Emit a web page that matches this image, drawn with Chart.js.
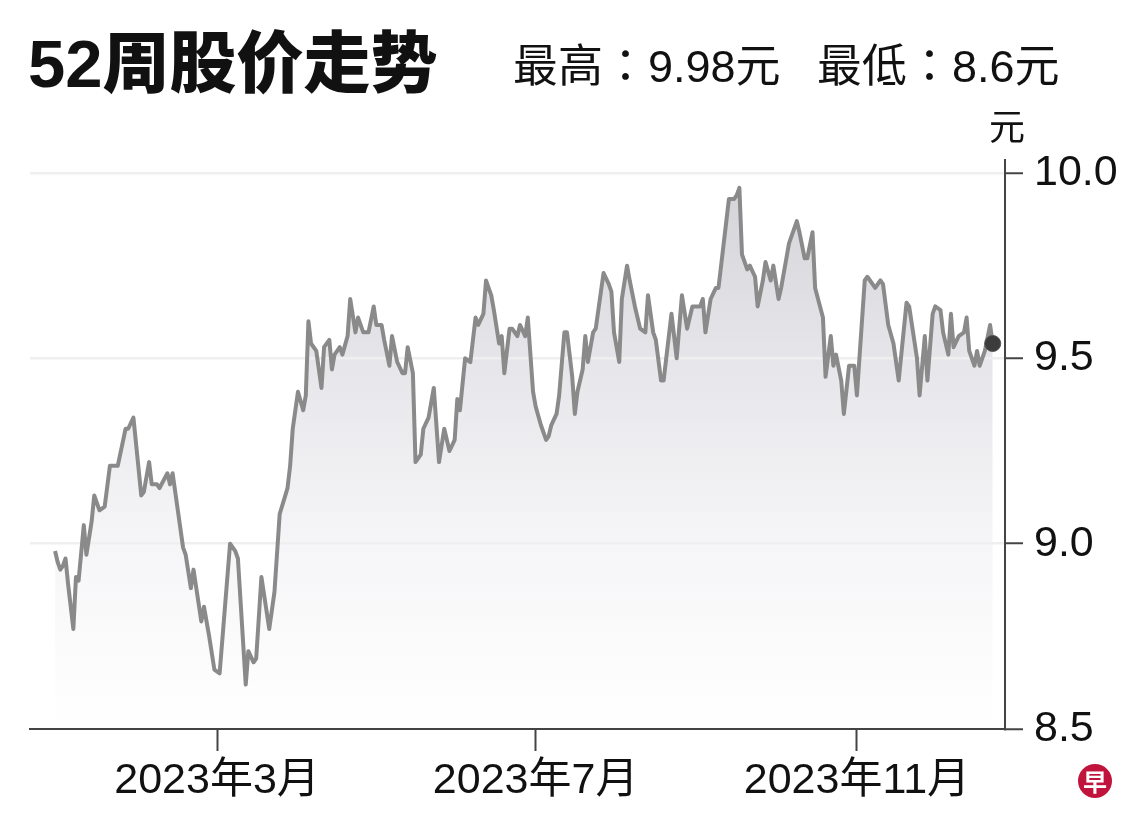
<!DOCTYPE html>
<html>
<head>
<meta charset="utf-8">
<script src="https://cdn.jsdelivr.net/npm/chart.js@4"></script>
<style>
  html, body { margin: 0; padding: 0; background: #fff; }
  #wrap { position: relative; width: 1140px; height: 830px; overflow: hidden; }
  #chart { position: absolute; left: 0; top: 0; }
  .txt { position: absolute; white-space: nowrap; color: #111; line-height: 1; }
  #title { left: 28px; top: 9px; font: 900 67px "Liberation Sans", "Noto Sans CJK SC", sans-serif; }
  #hi, #lo { top: 30px; font: 45px "Liberation Sans", "Noto Sans CJK TC", sans-serif; }
  #hi { left: 513px; }
  #lo { left: 817px; }
  #unit { left: 989px; top: 98px; font: 36px "Noto Sans CJK SC", sans-serif; }
  #logo { position: absolute; left: 1078px; top: 764px; width: 34px; height: 34px; border-radius: 50%;
          background: #c0143c; color: #fff; font: 700 24px/34px "Noto Sans CJK SC", sans-serif; text-align: center; }
</style>
</head>
<body>
<div id="wrap">
  <canvas id="chart" width="1140" height="830"></canvas>
  <div class="txt" id="title">52周股价走势</div>
  <div class="txt" id="hi">最高：9.98元</div>
  <div class="txt" id="lo">最低：8.6元</div>
  <div class="txt" id="unit">元</div>
  <div id="logo">早</div>
</div>
<script>
const dates = [
  '2022-12-29','2022-12-30','2022-12-31','2023-01-01','2023-01-02','2023-01-03','2023-01-05','2023-01-06','2023-01-07','2023-01-09','2023-01-10','2023-01-12','2023-01-13','2023-01-15','2023-01-17','2023-01-19','2023-01-22','2023-01-25','2023-01-26','2023-01-28','2023-01-31',
  '2023-02-01','2023-02-03','2023-02-04','2023-02-06','2023-02-07','2023-02-10','2023-02-11','2023-02-12','2023-02-16','2023-02-17','2023-02-19','2023-02-20','2023-02-23','2023-02-24','2023-02-26','2023-02-28',
  '2023-03-02','2023-03-06','2023-03-08','2023-03-09','2023-03-12','2023-03-13','2023-03-15','2023-03-16','2023-03-18','2023-03-21','2023-03-23','2023-03-25','2023-03-28','2023-03-29','2023-03-30',
  '2023-04-01','2023-04-03','2023-04-04','2023-04-05','2023-04-06','2023-04-08','2023-04-10','2023-04-11','2023-04-13','2023-04-14','2023-04-15','2023-04-17','2023-04-18','2023-04-20','2023-04-21','2023-04-23','2023-04-24','2023-04-26','2023-04-28','2023-04-30',
  '2023-05-01','2023-05-03','2023-05-04','2023-05-06','2023-05-07','2023-05-09','2023-05-11','2023-05-12','2023-05-13','2023-05-15','2023-05-16','2023-05-18','2023-05-19','2023-05-21','2023-05-23','2023-05-25','2023-05-27','2023-05-29','2023-05-31',
  '2023-06-01','2023-06-02','2023-06-04','2023-06-06','2023-06-08','2023-06-09','2023-06-11','2023-06-12','2023-06-14','2023-06-15','2023-06-17','2023-06-18','2023-06-19','2023-06-21','2023-06-22','2023-06-24','2023-06-25','2023-06-27','2023-06-28','2023-06-30',
  '2023-07-01','2023-07-03','2023-07-05','2023-07-06','2023-07-07','2023-07-09','2023-07-10','2023-07-12','2023-07-13','2023-07-15','2023-07-16','2023-07-17','2023-07-19','2023-07-20','2023-07-21','2023-07-23','2023-07-24','2023-07-26','2023-07-27','2023-07-29','2023-07-30','2023-07-31',
  '2023-08-02','2023-08-03','2023-08-05','2023-08-06','2023-08-08','2023-08-10','2023-08-12','2023-08-13','2023-08-15','2023-08-16','2023-08-18','2023-08-19','2023-08-22','2023-08-24','2023-08-26','2023-08-28','2023-08-30','2023-08-31',
  '2023-09-02','2023-09-03','2023-09-04','2023-09-06','2023-09-08','2023-09-09','2023-09-10','2023-09-13','2023-09-15','2023-09-16','2023-09-17','2023-09-18','2023-09-20','2023-09-21','2023-09-23','2023-09-24','2023-09-26','2023-09-27','2023-09-29','2023-09-30',
  '2023-10-02','2023-10-03','2023-10-05','2023-10-06','2023-10-09','2023-10-10','2023-10-12','2023-10-13','2023-10-15','2023-10-16','2023-10-19','2023-10-20','2023-10-22','2023-10-23','2023-10-24','2023-10-26','2023-10-27','2023-10-29','2023-10-31',
  '2023-11-01','2023-11-04','2023-11-05','2023-11-08','2023-11-10','2023-11-11','2023-11-13','2023-11-15','2023-11-17','2023-11-20','2023-11-21','2023-11-24','2023-11-25','2023-11-27','2023-11-28','2023-11-30',
  '2023-12-01','2023-12-03','2023-12-04','2023-12-06','2023-12-07','2023-12-08','2023-12-10','2023-12-12','2023-12-13','2023-12-14','2023-12-16','2023-12-17','2023-12-18','2023-12-20','2023-12-22','2023-12-23'
];

const prices = [
  8.98, 8.95, 8.93, 8.94, 8.96, 8.89, 8.77, 8.91, 8.90, 9.05, 8.97, 9.06, 9.13, 9.09, 9.10, 9.21, 9.21, 9.31, 9.31, 9.34, 9.13,
  9.14, 9.22, 9.16, 9.16, 9.15, 9.19, 9.16, 9.19, 8.99, 8.97, 8.88, 8.93, 8.79, 8.83, 8.75, 8.66,
  8.65, 9.00, 8.98, 8.96, 8.62, 8.71, 8.68, 8.69, 8.91, 8.77, 8.87, 9.08, 9.15, 9.21, 9.31,
  9.41, 9.36, 9.40, 9.60, 9.54, 9.52, 9.42, 9.53, 9.55, 9.47, 9.51, 9.53, 9.51, 9.56, 9.66, 9.57, 9.61, 9.57, 9.57, 9.64,
  9.59, 9.59, 9.55, 9.48, 9.56, 9.49, 9.46, 9.46, 9.53, 9.46, 9.22, 9.24, 9.31, 9.34, 9.42, 9.22, 9.31, 9.25, 9.28,
  9.39, 9.36, 9.50, 9.49, 9.61, 9.59, 9.62, 9.71, 9.67, 9.63, 9.54, 9.56, 9.46, 9.58, 9.58, 9.56, 9.59, 9.56, 9.61, 9.41,
  9.37, 9.32, 9.28, 9.29, 9.32, 9.35, 9.40, 9.57, 9.57, 9.45, 9.35, 9.41, 9.47, 9.56, 9.49, 9.57, 9.58, 9.68, 9.73, 9.70, 9.68, 9.57,
  9.49, 9.66, 9.75, 9.71, 9.64, 9.58, 9.57, 9.67, 9.57, 9.55, 9.44, 9.44, 9.62, 9.50, 9.67, 9.58, 9.64, 9.64,
  9.64, 9.66, 9.57, 9.66, 9.69, 9.69, 9.75, 9.93, 9.93, 9.94, 9.96, 9.78, 9.74, 9.75, 9.72, 9.64, 9.71, 9.76, 9.71, 9.75,
  9.66, 9.69, 9.77, 9.81, 9.87, 9.84, 9.77, 9.77, 9.84, 9.69, 9.61, 9.45, 9.56, 9.48, 9.51, 9.44, 9.35, 9.48, 9.48,
  9.40, 9.71, 9.72, 9.69, 9.71, 9.70, 9.59, 9.54, 9.44, 9.65, 9.64, 9.50, 9.40, 9.56, 9.44, 9.62,
  9.64, 9.63, 9.57, 9.51, 9.62, 9.53, 9.56, 9.57, 9.61, 9.52, 9.48, 9.52, 9.48, 9.52, 9.59, 9.54
];

const tickDates = ['2023-03-01', '2023-07-01', '2023-11-01'];
const tickLabels = ['2023年3月', '2023年7月', '2023年11月'];
const yTicks = [8.5, 9.0, 9.5, 10.0];

// days since epoch, so a plain linear axis can place the dates
const dayOf = s => Date.UTC(+s.slice(0, 4), +s.slice(5, 7) - 1, +s.slice(8, 10)) / 86400000;

const points = dates.map((d, i) => ({ x: dayOf(d), y: prices[i] }));
const last = points.length - 1;

const axisFamily = '"Liberation Sans Narrow", "Liberation Sans", "Noto Sans CJK SC", sans-serif';

const fillGradient = (context) => {
  const chart = context.chart;
  const area = chart.chartArea;
  if (!area) return 'rgba(0,0,0,0)';
  const g = chart.ctx.createLinearGradient(0, area.top, 0, area.bottom);
  g.addColorStop(0, 'rgb(210,210,214)');
  g.addColorStop(0.35, 'rgb(230,230,234)');
  g.addColorStop(0.68, 'rgb(246,246,248)');
  g.addColorStop(1, 'rgb(255,255,255)');
  return g;
};

const config = {
  type: 'line',
  data: {
    datasets: [{
      data: points,
      borderColor: '#8a8a8a',
      borderWidth: 4,
      borderJoinStyle: 'round',
      tension: 0,
      fill: 'start',
      backgroundColor: fillGradient,
      pointRadius: ctx => ctx.dataIndex === last ? 8 : 0,
      pointBackgroundColor: '#3c3c3c',
      pointBorderColor: '#555',
      pointBorderWidth: 1,
      pointHoverRadius: 0
    }]
  },
  options: {
    responsive: false,
    animation: false,
    events: [],
    layout: { padding: { top: 160, left: 30, right: 0, bottom: 0 } },
    plugins: {
      legend: { display: false },
      tooltip: { enabled: false },
      filler: { drawTime: 'beforeDraw' }
    },
    scales: {
      x: {
        type: 'linear',
        min: dayOf(dates[0]) - 9.6,
        max: dayOf(dates[last]) + 4.7,
        afterBuildTicks: s => { s.ticks = tickDates.map(d => ({ value: dayOf(d) })); },
        afterFit: s => { s.height = 101; },
        grid: { drawOnChartArea: false, drawTicks: true, tickLength: 22, tickColor: '#444', tickWidth: 2 },
        border: { display: true, color: '#444', width: 2 },
        ticks: {
          callback: (v, i) => tickLabels[i],
          font: { family: axisFamily, size: 43 },
          color: '#111',
          padding: 4,
          maxRotation: 0,
          autoSkip: false
        }
      },
      y: {
        position: 'right',
        min: 8.5,
        max: 10.035,
        afterBuildTicks: s => { s.ticks = yTicks.map(v => ({ value: v })); },
        afterFit: s => { s.width = 135; },
        grid: {
          color: ctx => (ctx.tick && ctx.tick.value === 8.5) ? 'rgba(0,0,0,0)' : '#efeff0',
          lineWidth: 2.5,
          tickColor: '#444',
          tickLength: 18,
          tickWidth: 2
        },
        border: { display: true, color: '#444', width: 2 },
        ticks: {
          callback: v => v.toFixed(1),
          font: { family: axisFamily, size: 43 },
          color: '#111',
          padding: 11
        }
      }
    }
  }
};

var myChart = new Chart(document.getElementById('chart'), config);
</script>
</body>
</html>
